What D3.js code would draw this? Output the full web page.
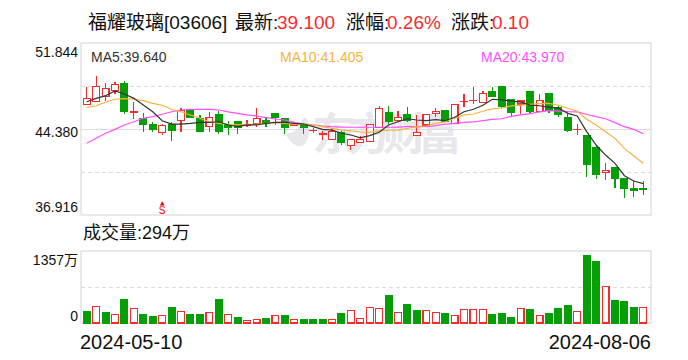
<!DOCTYPE html>
<html lang="zh">
<head>
  <meta charset="UTF-8">
  <title>福耀玻璃 K线</title>
  <script src="https://d3js.org/d3.v7.min.js"></script>
  <style>
    * { margin: 0; padding: 0; box-sizing: border-box; }
    body { background: #fff; font-family: "Liberation Sans", "Noto Sans CJK SC", sans-serif; }
    text { font-family: "Liberation Sans", "Noto Sans CJK SC", sans-serif; }
  </style>
</head>
<body>
  <div id="chart"></div>

  <script>
    // values, one entry per trading day
    const opens = [46.52,46.78,47.22,47.70,48.29,45.85,45.25,44.73,44.06,44.73,45.10,46.03,45.25,44.58,45.60,44.79,44.99,44.70,44.87,45.07,45.68,45.31,44.74,44.73,44.24,43.92,43.49,44.03,42.97,43.23,43.31,44.53,45.77,45.14,45.60,43.83,44.73,45.74,45.94,44.87,46.75,46.84,46.70,47.59,48.03,46.90,46.55,47.59,45.88,47.42,46.20,45.33,44.32,43.77,42.73,40.62,40.99,40.04,39.17,39.17];
    const closes = [47.04,48.05,47.91,48.26,45.88,45.88,44.75,44.38,44.70,44.29,45.97,45.42,44.21,45.36,44.21,44.55,44.49,44.73,45.31,44.96,45.36,44.49,44.77,44.49,44.27,43.95,44.18,43.19,43.49,43.49,44.79,46.18,45.07,45.40,45.14,44.09,45.66,45.92,45.05,46.52,46.78,46.87,47.48,47.18,46.32,45.80,46.81,45.88,46.87,46.03,45.68,44.29,44.35,41.28,40.41,40.80,40.13,39.20,39.06,39.10];
    const highs = [48.05,49.01,48.35,48.46,48.55,46.75,45.74,45.01,44.81,44.96,46.20,46.03,45.60,45.83,45.97,45.07,44.99,45.14,46.20,45.40,45.80,45.31,44.99,44.87,44.47,44.21,44.44,44.21,43.49,43.75,44.79,46.38,46.38,45.92,46.26,45.60,45.66,46.23,46.06,46.52,47.42,48.00,47.68,48.03,48.03,46.90,46.81,47.59,47.42,47.50,46.38,45.80,44.79,43.77,42.99,41.43,40.99,40.04,39.87,39.87];
    const lows = [46.52,46.78,46.81,47.42,45.71,45.22,44.15,44.12,43.89,43.34,44.15,45.31,44.21,44.15,43.97,43.86,43.95,44.58,44.58,44.55,44.73,43.97,44.64,43.97,44.06,43.45,43.49,42.99,42.58,43.23,43.31,44.53,44.81,45.01,45.01,43.83,44.73,45.42,44.99,44.87,46.32,46.55,46.70,47.18,46.23,45.45,45.68,45.80,45.88,45.80,45.38,44.15,43.86,40.21,40.07,39.95,39.28,38.42,38.48,38.65];
    const volumes = [207,314,188,163,434,276,151,113,145,283,220,151,151,201,434,163,94,50,69,75,145,132,69,57,57,57,69,170,239,88,295,276,509,201,339,226,239,201,170,145,258,258,258,151,170,94,276,245,145,170,264,320,220,1263,1150,691,415,396,283,294];
    const volumeUp = [0,1,0,1,0,1,0,0,1,0,1,0,0,1,0,1,0,1,1,0,1,0,1,0,0,0,1,0,1,1,1,1,0,1,0,0,1,1,0,1,1,1,1,0,0,0,1,0,1,0,0,0,1,0,0,1,0,0,0,1];
    const ma5 = [46.75,47.04,47.27,47.68,47.42,47.04,46.46,45.88,45.10,44.81,44.81,44.87,44.96,44.96,45.01,44.73,44.58,44.73,44.73,44.87,44.96,44.96,44.87,44.81,44.58,44.35,44.29,44.01,43.86,43.62,43.80,44.09,44.73,45.01,45.27,45.16,45.10,45.19,45.10,45.40,45.88,46.09,46.44,46.96,46.90,46.81,46.72,46.46,46.40,46.26,46.20,45.74,45.51,44.15,42.99,42.12,41.40,40.33,39.87,39.64];
    const ma10 = [46.26,46.40,46.70,46.96,47.01,46.96,46.84,46.61,46.44,46.09,45.88,45.60,45.31,45.01,44.87,44.79,44.73,44.79,44.79,44.87,44.93,44.87,44.79,44.79,44.73,44.58,44.44,44.29,44.21,44.12,44.09,44.21,44.27,44.29,44.44,44.58,44.64,44.87,45.01,45.31,45.60,45.68,45.92,46.12,46.20,46.38,46.46,46.52,46.58,46.61,46.44,46.18,45.92,45.22,44.73,44.15,43.57,42.70,42.04,41.405];
    const ma20 = [43.14,43.57,44.01,44.35,44.73,45.01,45.31,45.45,45.66,45.88,46.03,46.09,46.09,46.09,46.03,45.86,45.74,45.60,45.51,45.36,45.25,45.16,44.96,44.81,44.73,44.64,44.58,44.55,44.53,44.53,44.53,44.53,44.53,44.55,44.58,44.58,44.58,44.67,44.79,44.87,44.96,44.99,45.10,45.22,45.27,45.48,45.60,45.71,45.86,45.97,45.94,45.88,45.86,45.66,45.45,45.27,44.93,44.58,44.35,43.97];
    const priceTicks = [51.844, 48.112, 44.38, 40.648, 36.916];
    const priceLabels = [51.844, 44.38, 36.916];
    const volumeTicks = [0, 678.5, 1357];
    const dateLabels = ["2024-05-10", "2024-08-06"];
    const sellMarkIndex = 8;

    const width = 688, height = 360;
    const red = "#f52c2c", green = "#069e06", gridColor = "#dcdcdc", frameColor = "#d3d3da";

    const svg = d3.select("#chart").append("svg")
      .attr("width", width).attr("height", height)
      .style("display", "block");

    const x = d3.scaleBand()
      .domain(d3.range(opens.length))
      .range([82, 648])
      .paddingInner(0.28)
      .paddingOuter(0.14);
    const y = d3.scaleLinear().domain([36.916, 51.844]).range([215, 43]);
    const yVol = d3.scaleLinear().domain([0, 1357]).range([323, 251]);
    const cx = i => x(i) + x.bandwidth() / 2;

    // title row, each piece placed where the reference has it
    const titleBits = [
      ["福耀玻璃[03606]", 88, "#111"],
      ["最新:", 235, "#111"],
      ["39.100", 277, red],
      ["涨幅:", 346, "#111"],
      ["0.26%", 387, red],
      ["涨跌:", 451, "#111"],
      ["0.10", 492, red]
    ];
    svg.selectAll(".title-bit").data(titleBits).join("text")
      .attr("class", "title-bit")
      .attr("x", d => d[1]).attr("y", 29)
      .attr("fill", d => d[2]).style("font-size", "19px")
      .text(d => d[0]);

    // watermark
    svg.append("text").attr("x", 312).attr("y", 150)
      .attr("fill", "#e8e8ec").style("font-size", "44px").style("font-weight", "bold")
      .attr("textLength", 150).text("东方财富");
    svg.append("path")
      .attr("fill", "#e8e8ec")
      .attr("d", d3.line().curve(d3.curveBasisClosed)([[304,111],[312,128],[305,148],[293,146],[282,130],[296,136]]));

    // frames and grid
    svg.append("rect").attr("x", 81).attr("y", 43).attr("width", 570).attr("height", 172)
      .attr("fill", "none").attr("stroke", frameColor);
    svg.append("rect").attr("x", 81).attr("y", 251).attr("width", 570).attr("height", 72)
      .attr("fill", "none").attr("stroke", frameColor);

    const gridPrice = svg.append("g").attr("transform", "translate(81,0)")
      .call(d3.axisLeft(y).tickValues(priceTicks.slice(1, 4)).tickSize(-570).tickFormat(""));
    gridPrice.select(".domain").remove();
    gridPrice.selectAll("line")
      .attr("stroke", gridColor)
      .attr("stroke-dasharray", d => d === 44.38 ? null : "4,3");

    const gridVol = svg.append("g").attr("transform", "translate(81,0)")
      .call(d3.axisLeft(yVol).tickValues(volumeTicks.slice(1, 2)).tickSize(-570).tickFormat(""));
    gridVol.select(".domain").remove();
    gridVol.selectAll("line").attr("stroke", gridColor).attr("stroke-dasharray", "4,3");

    // axis labels
    const priceAxis = svg.append("g").attr("transform", "translate(81,0)")
      .call(d3.axisLeft(y).tickValues(priceLabels).tickSize(0).tickPadding(3)
        .tickFormat(d3.format(".3f")));
    priceAxis.select(".domain").remove();
    priceAxis.selectAll("text")
      .attr("fill", "#111").style("font-size", "14px")
      .attr("dy", d => d === 51.844 ? 13 : d === 36.916 ? -4 : 7);

    const volAxis = svg.append("g").attr("transform", "translate(81,0)")
      .call(d3.axisLeft(yVol).tickValues([0, 1357]).tickSize(0).tickPadding(3)
        .tickFormat(d => d === 0 ? "0" : d + "万"));
    volAxis.select(".domain").remove();
    volAxis.selectAll("text")
      .attr("fill", "#111").style("font-size", "14px")
      .attr("dy", d => d === 0 ? -3 : 13);

    // candles
    const candles = svg.append("g").selectAll("g").data(d3.range(opens.length)).join("g")
      .attr("shape-rendering", "crispEdges");
    candles.append("line")
      .attr("x1", cx).attr("x2", cx)
      .attr("y1", i => y(highs[i])).attr("y2", i => y(lows[i]))
      .attr("stroke", i => closes[i] >= opens[i] ? red : green)
      .attr("stroke-width", 1.2);
    candles.append("rect")
      .attr("x", i => x(i)).attr("width", x.bandwidth())
      .attr("y", i => y(Math.max(opens[i], closes[i])))
      .attr("height", i => Math.max(Math.abs(y(opens[i]) - y(closes[i])), 0.4))
      .attr("fill", i => closes[i] >= opens[i] ? "#fff" : green)
      .attr("stroke", i => closes[i] >= opens[i] ? red : green)
      .attr("stroke-width", 1.2);

    // moving averages
    const maLine = d3.line().x((d, i) => cx(i)).y(d => y(d));
    [[ma20, "#ff4dff"], [ma10, "#f7b23b"], [ma5, "#333"]].forEach(([series, color]) => {
      svg.append("path").datum(series)
        .attr("fill", "none").attr("stroke", color).attr("stroke-width", 1.2)
        .attr("d", maLine);
    });

    // sell mark
    svg.append("text").attr("x", cx(sellMarkIndex)).attr("y", 214)
      .attr("text-anchor", "middle").attr("fill", "red").style("font-size", "10px").text("S");
    svg.append("path")
      .attr("fill", "red")
      .attr("d", d3.symbol(d3.symbolTriangle, 10)())
      .attr("transform", `translate(${cx(sellMarkIndex)},204)`);

    // MA legend
    const legend = [["MA5:39.640", 91, "#333"], ["MA10:41.405", 280, "#f7b23b"], ["MA20:43.970", 481, "#ff4dff"]];
    svg.selectAll(".ma-label").data(legend).join("text")
      .attr("class", "ma-label")
      .attr("x", d => d[1]).attr("y", 62)
      .attr("fill", d => d[2]).style("font-size", "14px")
      .text(d => d[0]);

    // volume
    svg.append("text").attr("x", 83).attr("y", 239)
      .attr("fill", "#111").style("font-size", "18px").text("成交量:294万");

    svg.append("g").attr("shape-rendering", "crispEdges")
      .selectAll("rect").data(d3.range(volumes.length)).join("rect")
      .attr("x", i => x(i)).attr("width", x.bandwidth())
      .attr("y", i => yVol(volumes[i]))
      .attr("height", i => yVol(0) - yVol(volumes[i]))
      .attr("fill", i => volumeUp[i] ? "#fff" : green)
      .attr("stroke", i => volumeUp[i] ? red : green)
      .attr("stroke-width", 1.2);

    // dates
    svg.append("text").attr("x", 80).attr("y", 349)
      .attr("fill", "#111").style("font-size", "20px").text(dateLabels[0]);
    svg.append("text").attr("x", 651).attr("y", 349).attr("text-anchor", "end")
      .attr("fill", "#111").style("font-size", "20px").text(dateLabels[1]);
  </script>
</body>
</html>
